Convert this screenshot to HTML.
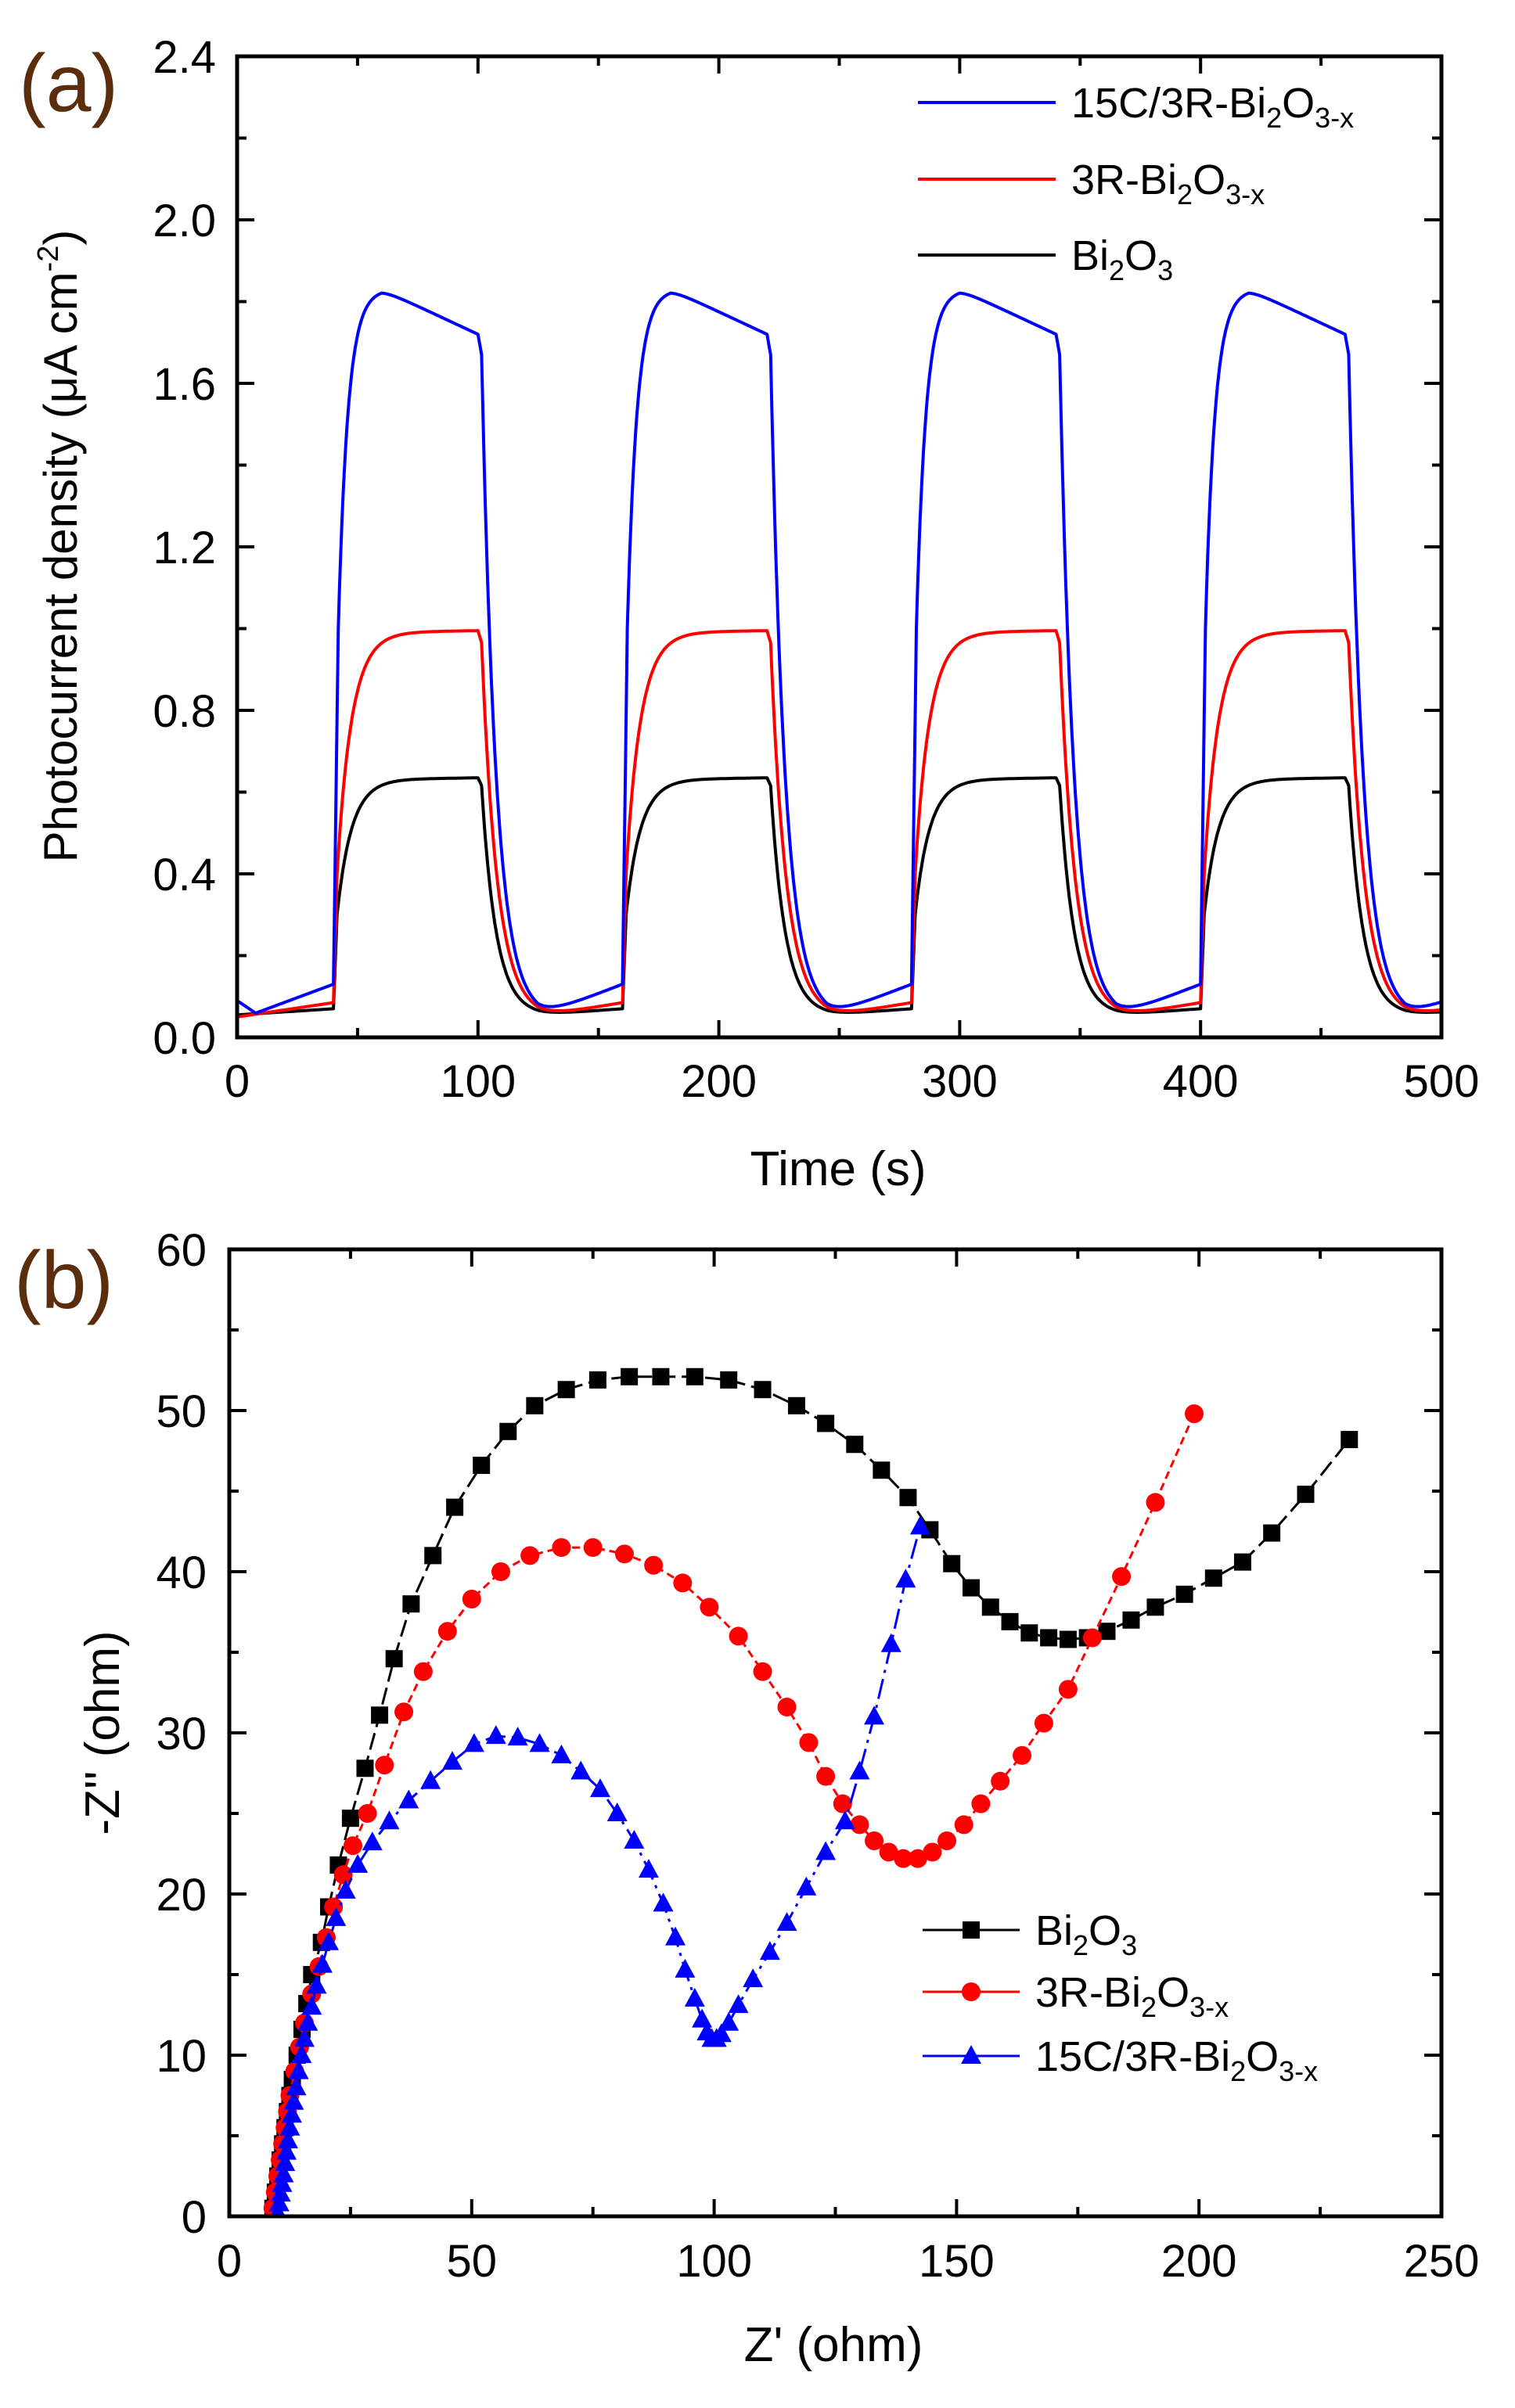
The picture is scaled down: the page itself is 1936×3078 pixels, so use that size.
<!DOCTYPE html>
<html><head><meta charset="utf-8"><style>
html,body{margin:0;padding:0;background:#fff;}
svg{display:block;font-family:"Liberation Sans",Arial,sans-serif;}
</style></head><body>
<svg id="s" width="1936" height="3078" viewBox="0 0 1936 3078" xmlns="http://www.w3.org/2000/svg">
<rect width="1936" height="3078" fill="#fff"/>
<text x="24" y="142" font-size="104" fill="#5a2d0c">(a)</text>
<text x="18" y="1672" font-size="104" fill="#5a2d0c">(b)</text>
<g id="ga"></g>
<g id="gb"></g>
<text x="1071" y="1515" font-size="62" text-anchor="middle">Time (s)</text>
<text transform="translate(98,698) rotate(-90)" font-size="60" text-anchor="middle">Photocurrent density (μA cm<tspan font-size="38" dy="-24">-2</tspan><tspan dy="24">)</tspan></text>
<line x1="1173" y1="131" x2="1349" y2="131" stroke="#0000ff" stroke-width="4"/>
<text x="1369" y="150" font-size="54">15C/3R-Bi<tspan font-size="36" dy="13">2</tspan><tspan dy="-13">O</tspan><tspan font-size="36" dy="13">3-x</tspan></text>
<line x1="1173" y1="229" x2="1349" y2="229" stroke="#ff0000" stroke-width="4"/>
<text x="1369" y="248" font-size="54">3R-Bi<tspan font-size="36" dy="13">2</tspan><tspan dy="-13">O</tspan><tspan font-size="36" dy="13">3-x</tspan></text>
<line x1="1173" y1="326" x2="1349" y2="326" stroke="#000" stroke-width="4"/>
<text x="1369" y="345" font-size="54">Bi<tspan font-size="36" dy="13">2</tspan><tspan dy="-13">O</tspan><tspan font-size="36" dy="13">3</tspan></text>
<text x="1065" y="3018" font-size="62" text-anchor="middle">Z' (ohm)</text>
<text transform="translate(152,2215) rotate(-90)" font-size="62" text-anchor="middle">-Z'' (ohm)</text>
</svg>
<script>
var NS="http://www.w3.org/2000/svg";
function el(p,t,a,txt){var e=document.createElementNS(NS,t);for(var k in a)e.setAttribute(k,a[k]);if(txt!=null)e.textContent=txt;p.appendChild(e);return e;}
var ga=document.getElementById('ga');
var AL=303,AR=1842,AT=72,AB=1326;
function ax(t){return AL+(AR-AL)*t/500;}
function ay(v){return AB-(AB-AT)*v/2.4;}
function series(dark,high0,high1,jump,tauOn,tauOff,darkRise){
 var pts=[];
 for(var t=0;t<=500;t+=0.5){
  var k=Math.floor((t-40)/120); var on0=40+120*k; var ph=t-on0;
  var v;
  if(t<40){ v=dark+darkRise*(t/40);}
  else if(ph<60){
    var hi=high0+(high1-high0)*(ph/60);
    var start=dark+darkRise;
    v=start+(jump-start)*Math.min(1,ph/1.5);
    if(ph>=1.5) v=jump+(hi-jump)*(1-Math.exp(-(ph-1.5)/tauOn));
  } else {
    var po=ph-60;
    var hiEnd=high1;
    var base=dark+darkRise*Math.max(0,(po-25)/35);
    if(po<1.5) v=hiEnd-(hiEnd*0.03)*po/1.5;
    else v=base+(hiEnd*0.97-base)*Math.exp(-(po-1.5)/tauOff);
  }
  pts.push([ax(t),ay(v)]);
 }
 return pts;
}
function pathOf(p){return 'M'+p.map(function(q){return q[0].toFixed(1)+','+q[1].toFixed(1);}).join('L');}
var clip=el(ga,'clipPath',{id:'ca'});el(clip,'rect',{x:AL,y:AT,width:AR-AL,height:AB-AT});
var blk=series(0.055,0.63,0.635,0.3,6,6,0.015);
var red=series(0.05,0.99,0.995,0.4,6,6.5,0.035);
var blu=[];
for(var t=0;t<=500;t+=0.5){
 var k=Math.floor((t-40)/120),ph=t-(40+120*k),v;
 if(t<40){v=t<8?0.09-0.004*t:0.06+0.07*(t-8)/32;}
 else if(ph<60){
   if(ph<2) v=0.13+(1.0-0.13)*ph/2;
   else {var hi=ph<20?1.83:1.83-0.11*(ph-20)/40; v=1.0+(hi-1.0)*(1-Math.exp(-(ph-2)/4));}
 } else {var po=ph-60;
   if(po<1.5) v=1.72-0.05*po/1.5;
   else {var base=po<25?0.05:0.05+0.08*(po-25)/35; v=base+(1.67-base)*Math.exp(-(po-1.5)/6);}
 }
 blu.push([ax(t),ay(v)]);
}
var gA=el(ga,'g',{'clip-path':'url(#ca)',fill:'none','stroke-width':4,'stroke-linejoin':'round'});
el(gA,'path',{d:pathOf(blk),stroke:'#000'});
el(gA,'path',{d:pathOf(red),stroke:'#ff0000'});
el(gA,'path',{d:pathOf(blu),stroke:'#0000ff'});
el(ga,'rect',{x:AL,y:AT,width:AR-AL,height:AB-AT,fill:'none',stroke:'#000','stroke-width':5});
for(var i=0;i<=12;i++){var v=i*0.2,y=ay(v),L=(i%2==0)?22:12;
 el(ga,'line',{x1:AL,y1:y,x2:AL+L,y2:y,stroke:'#000','stroke-width':4});
 el(ga,'line',{x1:AR,y1:y,x2:AR-L,y2:y,stroke:'#000','stroke-width':4});
 if(i%2==0) el(ga,'text',{x:276,y:y+21,'font-size':58,'text-anchor':'end'},(v).toFixed(1));}
for(var i=0;i<=10;i++){var t=i*50,x=ax(t),L=(i%2==0)?22:12;
 el(ga,'line',{x1:x,y1:AB,x2:x,y2:AB-L,stroke:'#000','stroke-width':4});
 el(ga,'line',{x1:x,y1:AT,x2:x,y2:AT+L,stroke:'#000','stroke-width':4});
 if(i%2==0) el(ga,'text',{x:x,y:1402,'font-size':58,'text-anchor':'middle'},String(t));}
var gb=document.getElementById('gb');
var BL=293,BR=1842,BT=1597,BB=2833;
function bx(z){return BL+(BR-BL)*z/250;}
function by(z){return BB-(BB-BT)*z/60;}
var K=[[9,0.5],[9.5,1.5],[10,2.5],[10.5,3.5],[11,4.5],[11.5,5.5],[12,6.5],[12.5,7.5],[13,8.5],[14,10],[15,11.6],[16,13.2],[17,15],[19,17],[20.5,19.2],[22.5,21.8],[25,24.7],[28,27.8],[31,31.1],[34,34.6],[37.5,38],[42,41],[46.5,44],[52,46.6],[57.5,48.7],[63,50.3],[69.5,51.3],[76,51.9],[82.5,52.1],[89,52.1],[96,52.1],[103,51.9],[110,51.3],[117,50.3],[123,49.2],[129,47.9],[134.5,46.3],[140,44.6],[144.5,42.6],[149,40.5],[153,39],[157,37.8],[161,36.9],[165,36.2],[169,35.9],[173,35.8],[177,35.9],[181,36.3],[186,37],[191,37.8],[197,38.6],[203,39.6],[209,40.6],[215,42.4],[222,44.8],[231,48.2]];
var R=[[9,0.5],[9.5,1.5],[10,2.5],[10.5,3.5],[11,4.5],[11.5,5.5],[12,6.5],[12.5,7.5],[13.5,9],[14.5,10.5],[15.5,12],[17,13.8],[18.5,15.5],[20,17.3],[21.5,19.2],[23.5,21.2],[25.5,23],[28.5,25],[32,28],[36,31.3],[40,33.8],[45,36.3],[50,38.3],[56,40],[62,41],[68.5,41.5],[75,41.5],[81.5,41.1],[87.5,40.4],[93.5,39.3],[99,37.8],[105,36],[110,33.8],[115,31.6],[119.5,29.4],[123,27.3],[126.5,25.6],[130,24.3],[133,23.3],[136,22.6],[139,22.2],[142,22.2],[145,22.6],[148,23.3],[151.5,24.3],[155,25.6],[159,27],[163.5,28.6],[168,30.6],[173,32.7],[178,35.9],[184,39.7],[191,44.3],[199,49.8]];
var B=[[10,0.2],[10.3,0.8],[10.6,1.4],[10.9,2],[11.2,2.6],[11.5,3.3],[11.8,4],[12.1,4.7],[12.5,5.5],[12.9,6.3],[13.3,7.1],[13.8,8],[14.3,9],[14.9,10],[15.5,11],[16.2,12],[17,13],[18,14.3],[19.2,15.6],[20.5,17],[22,18.5],[24,20.2],[26.5,21.8],[29.5,23.2],[33,24.5],[37,25.8],[41.5,27],[46,28.2],[50.5,29.3],[55,29.8],[59.5,29.7],[64,29.3],[68.5,28.6],[72.5,27.6],[76.5,26.5],[80,25],[83.5,23.3],[86.5,21.5],[89.5,19.4],[92,17.3],[94,15.3],[96,13.5],[97.5,12.2],[98.5,11.4],[99.5,11],[100.5,11],[101.5,11.3],[103,12],[105,13.1],[108,14.7],[111.5,16.4],[115,18.2],[119,20.4],[123,22.6],[127,24.5],[130,27.6],[133,31],[136.5,35.5],[139.5,39.5],[142.5,42.8]];
var clipb=el(gb,'clipPath',{id:'cb'});el(clipb,'rect',{x:BL,y:BT,width:BR-BL,height:BB-BT});
var gB=el(gb,'g',{'clip-path':'url(#cb)'});
function toPx(a){return a.map(function(p){return [bx(p[0]),by(p[1])];});}
function mark(par,q,mk,col){
  if(mk=='s') el(par,'rect',{x:q[0]-11,y:q[1]-11,width:22,height:22,fill:col});
  else if(mk=='c') el(par,'circle',{cx:q[0],cy:q[1],r:12,fill:col});
  else el(par,'polygon',{points:(q[0])+','+(q[1]-14)+' '+(q[0]-13)+','+(q[1]+10)+' '+(q[0]+13)+','+(q[1]+10),fill:col});
}
function drawSeries(arr,col,dash,mk){
 var p=toPx(arr);
 el(gB,'path',{d:pathOf(p),fill:'none',stroke:col,'stroke-width':3,'stroke-dasharray':dash});
 p.forEach(function(q){mark(gB,q,mk,col);});
}
drawSeries(K,'#000','22,8','s');
drawSeries(R,'#ff0000','10,6','c');
drawSeries(B,'#0000ff','26,8,4,8','t');
el(gb,'rect',{x:BL,y:BT,width:BR-BL,height:BB-BT,fill:'none',stroke:'#000','stroke-width':5});
for(var i=0;i<=12;i++){var v=i*5,y=by(v),L=(i%2==0)?22:12;
 el(gb,'line',{x1:BL,y1:y,x2:BL+L,y2:y,stroke:'#000','stroke-width':4});
 el(gb,'line',{x1:BR,y1:y,x2:BR-L,y2:y,stroke:'#000','stroke-width':4});
 if(i%2==0) el(gb,'text',{x:264,y:y+21,'font-size':58,'text-anchor':'end'},String(v));}
for(var i=0;i<=10;i++){var t=i*25,x=bx(t),L=(i%2==0)?22:12;
 el(gb,'line',{x1:x,y1:BB,x2:x,y2:BB-L,stroke:'#000','stroke-width':4});
 el(gb,'line',{x1:x,y1:BT,x2:x,y2:BT+L,stroke:'#000','stroke-width':4});
 if(i%2==0) el(gb,'text',{x:x,y:2910,'font-size':58,'text-anchor':'middle'},String(t));}
var lg=[[2467,'#000','s'],[2546,'#ff0000','c'],[2628,'#0000ff','t']];
lg.forEach(function(L){
 el(gb,'line',{x1:1179,y1:L[0],x2:1303,y2:L[0],stroke:L[1],'stroke-width':3});
 mark(gb,[1241,L[0]],L[2],L[1]);
});
function legText(y,pre,sub2){
 var t=el(gb,'text',{x:1323,y:y+19,'font-size':54},null);
 t.appendChild(document.createTextNode(pre));
 el(t,'tspan',{'font-size':36,dy:13},'2');
 el(t,'tspan',{dy:-13},'O');
 el(t,'tspan',{'font-size':36,dy:13},sub2);
}
legText(2467,'Bi','3');
legText(2546,'3R-Bi','3-x');
legText(2628,'15C/3R-Bi','3-x');
</script>
</body></html>
